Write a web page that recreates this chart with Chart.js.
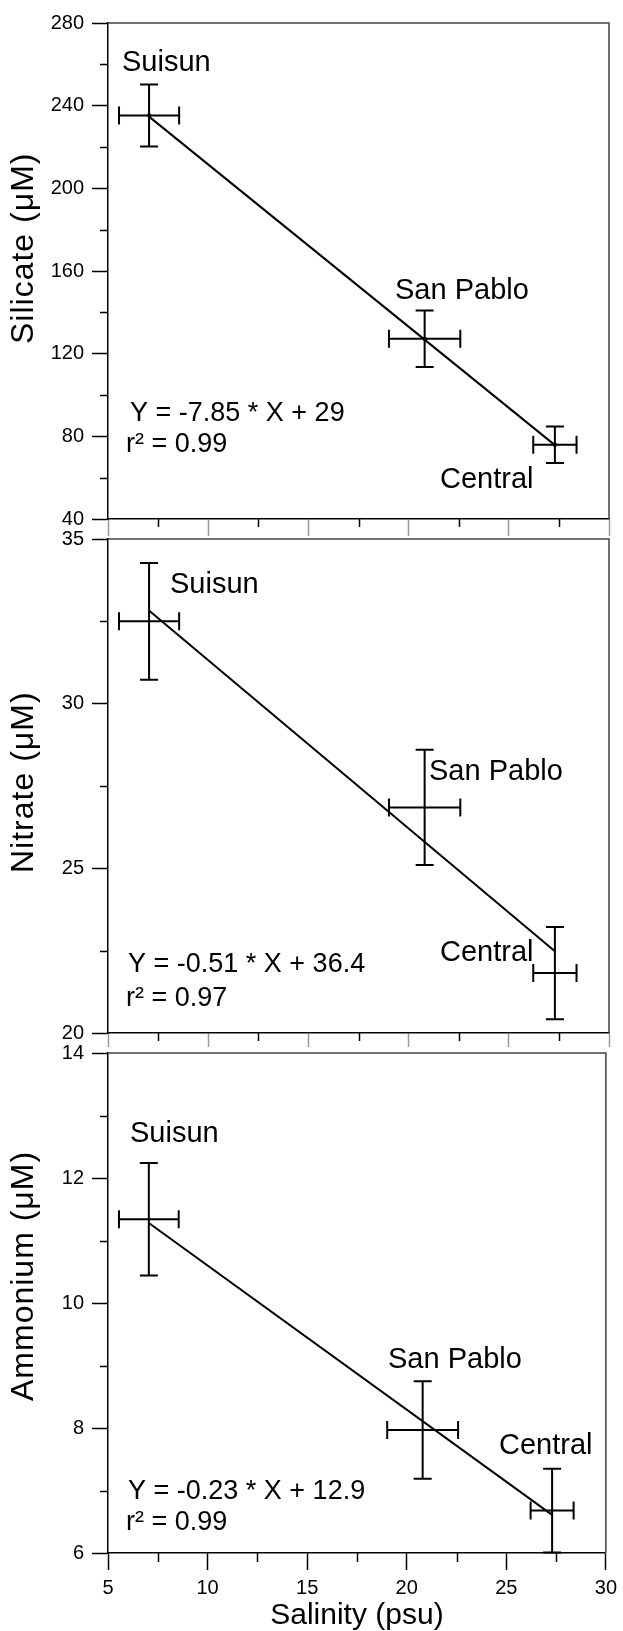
<!DOCTYPE html>
<html>
<head>
<meta charset="utf-8">
<script src="https://cdn.jsdelivr.net/npm/chart.js@4.4.1/dist/chart.umd.min.js"></script>
<style>
html,body{margin:0;padding:0;background:#fff;}
#wrap{position:relative;width:623px;height:1631px;overflow:hidden;background:#fff;}
canvas{position:absolute;left:0;}
</style>
</head>
<body>
<div id="wrap">
  <canvas id="c1" style="top:0px"></canvas>
  <canvas id="c2" style="top:510px"></canvas>
  <canvas id="c3" style="top:1025px"></canvas>
</div>
<script>
// ---------------- DATA ----------------
const stations = ['Suisun', 'San Pablo', 'Central'];
const salinity = [7.05, 20.8, 27.3];
const salinityErr = [1.5, 1.78, 1.08];

const silicate = [235.3, 127.2, 75.9];
const silicateErr = [15.0, 13.7, 8.8];
const nitrate = [32.5, 26.85, 21.82];
const nitrateErr = [1.77, 1.75, 1.4];
const ammonium = [11.34, 7.97, 6.68];
const ammoniumErr = [0.9, 0.78, 0.67];

// regression line end points
const silicateFitX = [7.05, 27.27];
const silicateFitY = [234.7, 76.0];
const nitrateFitX = [7.06, 27.27];
const nitrateFitY = [32.82, 22.5];
const ammoniumFitX = [7.05, 27.3];
const ammoniumFitY = [11.28, 6.61];

const silicateEq = ['Y = -7.85 * X + 29', 'r\u00B2 = 0.99'];
const nitrateEq = ['Y = -0.51 * X + 36.4', 'r\u00B2 = 0.97'];
const ammoniumEq = ['Y = -0.23 * X + 12.9', 'r\u00B2 = 0.99'];

// tick values
const xTicks = [5, 10, 15, 20, 25, 30];
const xMinorTicks = [7.5, 12.5, 17.5, 22.5, 27.5];
const silicateTicks = [40, 80, 120, 160, 200, 240, 280];
const silicateMinorTicks = [60, 100, 140, 180, 220, 260];
const nitrateTicks = [20, 25, 30, 35];
const nitrateMinorTicks = [22.5, 27.5, 32.5];
const ammoniumTicks = [6, 8, 10, 12, 14];
const ammoniumMinorTicks = [7, 9, 11, 13];

// ---------------- STYLE / LAYOUT ----------------
const FONT = '"Liberation Sans", Arial, Helvetica, sans-serif';

function makePanel(cfg) {
  const canvas = document.getElementById(cfg.id);
  canvas.width = 623;
  canvas.height = cfg.height;
  canvas.style.width = '623px';
  canvas.style.height = cfg.height + 'px';

  const points = salinity.map((x, i) => ({ x: x, y: cfg.values[i] }));
  const fit = cfg.fitX.map((x, i) => ({ x: x, y: cfg.fitY[i] }));

  const panelPlugin = {
    id: 'panel_' + cfg.id,
    afterDatasetsDraw(chart) {
      const ctx = chart.ctx;
      const xs = chart.scales.x, ys = chart.scales.y;
      ctx.save();
      ctx.strokeStyle = '#000';
      ctx.lineWidth = 2;
      const cap = 9;
      for (let i = 0; i < salinity.length; i++) {
        const px = xs.getPixelForValue(salinity[i]);
        const py = ys.getPixelForValue(cfg.values[i]);
        const x0 = xs.getPixelForValue(salinity[i] - salinityErr[i]);
        const x1 = xs.getPixelForValue(salinity[i] + salinityErr[i]);
        const y0 = ys.getPixelForValue(cfg.values[i] + cfg.errors[i]);
        const y1 = ys.getPixelForValue(cfg.values[i] - cfg.errors[i]);
        ctx.beginPath();
        ctx.moveTo(x0, py); ctx.lineTo(x1, py);
        ctx.moveTo(x0, py - cap); ctx.lineTo(x0, py + cap);
        ctx.moveTo(x1, py - cap); ctx.lineTo(x1, py + cap);
        ctx.moveTo(px, y0); ctx.lineTo(px, y1);
        ctx.moveTo(px - cap, y0); ctx.lineTo(px + cap, y0);
        ctx.moveTo(px - cap, y1); ctx.lineTo(px + cap, y1);
        ctx.stroke();
      }
      ctx.restore();
    },
    afterDraw(chart) {
      const ctx = chart.ctx;
      const a = chart.chartArea;
      const xs = chart.scales.x, ys = chart.scales.y;
      ctx.save();
      // frame (top & right)
      ctx.strokeStyle = '#444';
      ctx.lineWidth = 1.5;
      ctx.beginPath();
      ctx.moveTo(a.left, a.top); ctx.lineTo(a.right, a.top); ctx.lineTo(a.right, a.bottom);
      ctx.stroke();
      // minor ticks
      ctx.strokeStyle = '#000';
      ctx.lineWidth = 1.5;
      ctx.beginPath();
      xMinorTicks.forEach(v => {
        const p = Math.round(xs.getPixelForValue(v)) + 0.5;
        ctx.moveTo(p, a.bottom); ctx.lineTo(p, a.bottom + cfg.xMinorLen);
      });
      cfg.minorTicks.forEach(v => {
        const p = Math.round(ys.getPixelForValue(v)) + 0.5;
        ctx.moveTo(a.left, p); ctx.lineTo(a.left - 8, p);
      });
      ctx.stroke();
      // station labels and fit equation
      ctx.fillStyle = '#000';
      ctx.textAlign = 'left';
      ctx.textBaseline = 'alphabetic';
      ctx.font = '29px ' + FONT;
      stations.forEach((s, i) => {
        const pos = cfg.labelPos[i];
        ctx.fillText(s, a.left + pos[0], a.top + pos[1]);
      });
      ctx.font = '27px ' + FONT;
      cfg.eq.forEach((t, i) => {
        const pos = cfg.eqPos[i];
        ctx.fillText(t, a.left + pos[0], a.top + pos[1]);
      });
      // y axis title (rotated)
      ctx.save();
      ctx.font = '32px ' + FONT;
      try { ctx.letterSpacing = '1px'; } catch (e) {}
      ctx.translate(33, a.bottom - cfg.titleStart);
      ctx.rotate(-Math.PI / 2);
      ctx.textAlign = 'left';
      ctx.textBaseline = 'alphabetic';
      ctx.fillText(cfg.title, 0, 0);
      ctx.restore();
      // x axis title
      if (cfg.showXLabels) {
        ctx.font = '30px ' + FONT;
        ctx.textAlign = 'center';
        ctx.fillText('Salinity (psu)', (a.left + a.right) / 2, a.bottom + 71);
      }
      ctx.restore();
    }
  };

  return new Chart(canvas, {
    type: 'scatter',
    data: {
      datasets: [
        {
          data: fit, showLine: true, borderColor: '#000', borderWidth: 2,
          pointRadius: 0, fill: false, tension: 0
        },
        {
          data: points, pointRadius: cfg.pointRadius, pointStyle: 'rect',
          backgroundColor: '#000', borderColor: '#000', borderWidth: 0
        }
      ]
    },
    options: {
      responsive: false,
      animation: false,
      events: [],
      layout: { padding: { top: cfg.padTop, right: 14, left: 0, bottom: 0 } },
      plugins: { legend: { display: false }, tooltip: { enabled: false } },
      scales: {
        x: {
          type: 'linear', position: 'bottom', min: 5, max: 30,
          afterFit(s) { s.height = cfg.xHeight; },
          afterBuildTicks(s) { s.ticks = xTicks.map(v => ({ value: v })); },
          ticks: {
            display: cfg.showXLabels, color: '#000', padding: 6, maxRotation: 0,
            autoSkip: false, font: { family: FONT, size: 20 }
          },
          grid: {
            drawOnChartArea: false, drawTicks: true, tickLength: cfg.xMajorLen,
            tickColor: cfg.xTickColor, tickWidth: 1.5
          },
          border: { display: true, color: '#000', width: 1.5 },
          title: { display: false }
        },
        y: {
          type: 'linear', position: 'left', min: cfg.min, max: cfg.max,
          afterFit(s) { s.width = 108; },
          afterBuildTicks(s) { s.ticks = cfg.ticks.map(v => ({ value: v })); },
          ticks: {
            color: '#000', padding: 8, autoSkip: false,
            font: { family: FONT, size: 20 }
          },
          grid: {
            drawOnChartArea: false, drawTicks: true, tickLength: 16,
            tickColor: '#000', tickWidth: 1.5
          },
          border: { display: true, color: '#000', width: 1.5 },
          title: { display: false }
        }
      }
    },
    plugins: [panelPlugin]
  });
}

makePanel({
  id: 'c1', height: 539, padTop: 23, xHeight: 17, xMajorLen: 17, xMinorLen: 8,
  xTickColor: '#999', showXLabels: false,
  min: 40, max: 280, ticks: silicateTicks, minorTicks: silicateMinorTicks,
  values: silicate, errors: silicateErr, fitX: silicateFitX, fitY: silicateFitY,
  title: 'Silicate (\u03BCM)', titleStart: 175, eq: silicateEq, pointRadius: 2.5,
  labelPos: [[14, 48], [287, 276], [332, 465]],
  eqPos: [[22, 398], [18, 429]]
});

makePanel({
  id: 'c2', height: 543, padTop: 29, xHeight: 14, xMajorLen: 14, xMinorLen: 8,
  xTickColor: '#999', showXLabels: false,
  min: 20, max: 35, ticks: nitrateTicks, minorTicks: nitrateMinorTicks,
  values: nitrate, errors: nitrateErr, fitX: nitrateFitX, fitY: nitrateFitY,
  title: 'Nitrate (\u03BCM)', titleStart: 160, eq: nitrateEq, pointRadius: 0,
  labelPos: [[62, 54], [321, 241], [332, 422]],
  eqPos: [[20, 433], [18, 467]]
});

makePanel({
  id: 'c3', height: 606, padTop: 28, xHeight: 78, xMajorLen: 17, xMinorLen: 9,
  xTickColor: '#000', showXLabels: true,
  min: 6, max: 14, ticks: ammoniumTicks, minorTicks: ammoniumMinorTicks,
  values: ammonium, errors: ammoniumErr, fitX: ammoniumFitX, fitY: ammoniumFitY,
  title: 'Ammonium (\u03BCM)', titleStart: 152, eq: ammoniumEq, pointRadius: 0,
  labelPos: [[22, 89], [280, 315], [391, 401]],
  eqPos: [[20, 446], [18, 477]]
});
</script>
</body>
</html>
